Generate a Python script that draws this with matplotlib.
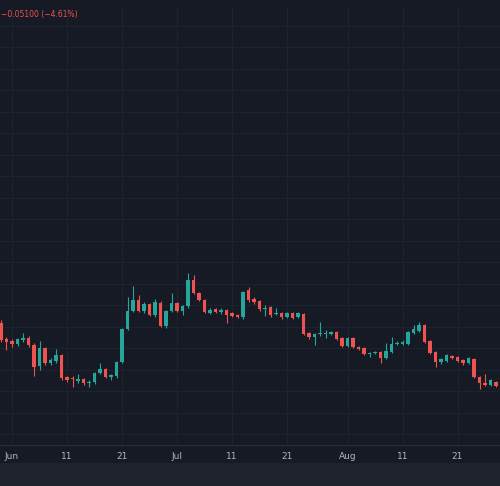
import matplotlib
matplotlib.use("Agg")
import matplotlib.pyplot as plt
import numpy as np

days = list(range(-2, 89))
opens = [177,161,159,156,160,162,155,134,152,137,139,145,123,122,119,121,117,118,127,131,123,124,138,171,189,200,189,196,185,197,174,189,197,189,194,220,207,200,187,191,188,190,187,185,183,
         210,201,199,191,193,186,187,183,187,183,186,167,163,166,166,166,168,162,154,162,153,152,146,147,148,142,148,156,156,156,167,169,175,159,148,138,139,144,143,140,137,141,123,117,115,118]
closes = [160,158,156,161,162,155,133,152,137,140,145,122,120,121,121,117,118,127,131,123,125,138,171,189,200,189,196,185,198,174,189,197,189,194,220,207,200,188,190,188,190,185,184,183,208,
          200,198,191,192,185,187,183,187,182,187,166,163,166,167,167,168,161,154,162,153,151,146,147,148,142,149,156,157,158,168,171,175,158,147,138,141,145,142,139,137,142,123,117,115,120,114]
highs = [180,163,161,162,167,164,157,159,153,142,151,146,124,124,126,122,120,128,137,132,126,139,172,203,214,205,198,197,201,199,190,207,198,195,227,225,208,201,192,192,192,191,188,186,209,
         213,203,200,195,194,192,188,188,188,188,187,168,167,178,170,169,169,163,163,163,154,153,148,149,149,157,163,159,160,169,175,178,176,160,149,142,146,145,144,141,143,142,124,126,121,119]
lows = [158,150,153,154,158,153,124,130,135,135,137,120,118,113,117,115,113,116,126,122,120,122,137,170,188,188,187,184,183,173,172,188,188,185,192,206,199,187,186,187,186,177,183,182,181,
        198,196,189,184,183,185,181,182,181,182,165,161,155,164,162,165,160,153,153,152,150,145,143,146,137,141,147,155,155,155,166,168,157,146,133,136,138,141,138,135,136,122,111,114,114,113]

tick_pos = [0, 10, 20, 30, 40, 50, 61, 71, 81]
tick_labels = ["Jun", "11", "21", "Jul", "11", "21", "Aug", "11", "21"]

BG = "#161a25"
GRID = "#1f2330"
UP = "#26a69a"
DOWN = "#ef5350"
TXT = "#b2b5be"

fig = plt.figure(figsize=(5, 4.86), dpi=100, facecolor=BG)
fig.patches.append(plt.Rectangle((0, 0), 1, 23/486, transform=fig.transFigure, color="#1e222d", zorder=0))
ax = fig.add_axes([0, 41/486, 1, 438/486], facecolor=BG)
ax.set_xlim(-12/5.5, 488/5.5)
ax.set_ylim(55, 493)

for gy in np.arange(453 - 21.5*18, 480, 21.5):
    ax.axhline(gy, color=GRID, lw=0.8, zorder=0)
for tp in tick_pos:
    ax.axvline(tp, color=GRID, lw=0.8, zorder=0)

for d, o, c, h, l in zip(days, opens, closes, highs, lows):
    col = UP if c >= o else DOWN
    ax.vlines(d, l, h, color=col, lw=0.8, zorder=2)
    ax.bar(d, max(abs(c - o), 0.8), bottom=min(o, c), width=0.65, color=col, zorder=3, linewidth=0)

for s in ax.spines.values():
    s.set_visible(False)
ax.spines["bottom"].set_visible(True)
ax.spines["bottom"].set_color("#2a2e39")
ax.set_yticks([])
ax.set_xticks(tick_pos)
ax.set_xticklabels(tick_labels, color=TXT, fontsize=6.5)
ax.tick_params(axis="x", length=0, pad=5)

fig.text(0.002, 1 - 15/486, "\u22120.05100 (\u22124.61%)", color=DOWN, fontsize=5.5, va="center", ha="left")
fig.savefig("out.png", dpi=100, facecolor=BG)
